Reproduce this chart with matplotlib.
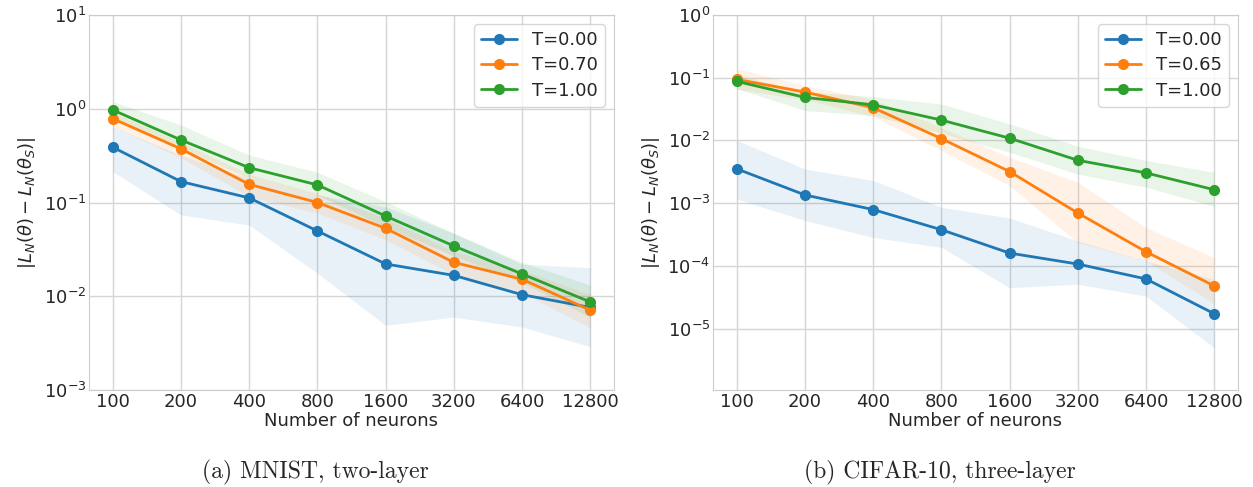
import numpy as np
import matplotlib
matplotlib.use("Agg")
import matplotlib.pyplot as plt
import seaborn as sns

sns.set_style("whitegrid")
plt.rcParams['font.family'] = ['DejaVu Sans']

neurons = [100, 200, 400, 800, 1600, 3200, 6400, 12800]
tick_labels = [str(n) for n in neurons]

# MNIST, two-layer
mnist_labels = ["T=0.00", "T=0.70", "T=1.00"]
mnist_mean = [
    [0.388, 0.167, 0.112, 0.0497, 0.0221, 0.0167, 0.0104, 0.0076],
    [0.783, 0.373, 0.156, 0.100, 0.053, 0.023, 0.0152, 0.0071],
    [0.97, 0.464, 0.235, 0.154, 0.0718, 0.0344, 0.0173, 0.0087],
]
mnist_low = [
    [0.213, 0.0736, 0.0575, 0.0176, 0.0049, 0.006, 0.0047, 0.0029],
    [0.64, 0.30, 0.115, 0.077, 0.040, 0.017, 0.011, 0.0046],
    [0.80, 0.38, 0.18, 0.12, 0.055, 0.027, 0.014, 0.0060],
]
mnist_high = [
    [0.64, 0.32, 0.18, 0.12, 0.09, 0.047, 0.022, 0.0202],
    [0.92, 0.44, 0.20, 0.125, 0.068, 0.030, 0.019, 0.0105],
    [1.19, 0.67, 0.32, 0.21, 0.102, 0.047, 0.023, 0.0132],
]

# CIFAR-10, three-layer
cifar_labels = ["T=0.00", "T=0.65", "T=1.00"]
cifar_mean = [
    [0.00352, 0.00135, 0.00079, 0.000377, 0.00016, 0.000107, 6.2e-5, 1.73e-5],
    [0.094, 0.059, 0.0332, 0.0107, 0.00319, 0.000697, 0.000168, 4.8e-5],
    [0.0874, 0.0485, 0.037, 0.0211, 0.01086, 0.00483, 0.00304, 0.00164],
]
cifar_low = [
    [0.00116, 0.00053, 0.000284, 0.000197, 4.5e-5, 5.1e-5, 3.3e-5, 4.95e-6],
    [0.065, 0.045, 0.024, 0.0069, 0.0019, 0.000236, 0.00012, 2.5e-5],
    [0.067, 0.030, 0.025, 0.013, 0.0065, 0.0029, 0.0018, 0.00089],
]
cifar_high = [
    [0.01, 0.0035, 0.0023, 0.00086, 0.00058, 0.00025, 0.00012, 6.1e-5],
    [0.139, 0.075, 0.045, 0.016, 0.0054, 0.00215, 0.00041, 0.000136],
    [0.11, 0.06, 0.05, 0.038, 0.0184, 0.0081, 0.0048, 0.0031],
]

colors = ["#1f77b4", "#ff7f0e", "#2ca02c"]

fig = plt.figure(figsize=(12.53, 4.87), dpi=100)
W, H = 1253, 487
ax1 = fig.add_axes([89 / W, 97 / H, 525 / W, 375 / H])
ax2 = fig.add_axes([713 / W, 97 / H, 525 / W, 375 / H])

x = np.arange(len(neurons))


def draw(ax, means, lows, highs, labels, ylim, yticks):
    for m, lo, hi, lab, c in zip(means, lows, highs, labels, colors):
        ax.fill_between(x, lo, hi, color=c, alpha=0.1, linewidth=0)
        ax.plot(x, m, '-o', color=c, label=lab, linewidth=2, markersize=7)
    ax.set_yscale('log')
    ax.set_ylim(*ylim)
    ax.set_yticks(yticks)
    ax.yaxis.set_minor_locator(matplotlib.ticker.NullLocator())
    ax.set_xticks(x)
    ax.set_xticklabels(tick_labels)
    ax.margins(x=0.05)
    ax.tick_params(axis='both', labelsize=13, pad=2, length=0)
    ax.set_xlabel("Number of neurons", fontsize=13, labelpad=1)
    ax.set_ylabel(r"$|L_N(\theta) - L_N(\theta_S)|$", fontsize=13, labelpad=4)
    for s in ax.spines.values():
        s.set_color('#cccccc')
    ax.grid(True, color='#d5d5d5', linewidth=1)
    ax.legend(loc='upper right', fontsize=13, framealpha=0.8, borderpad=0.4,
              handlelength=2.0, labelspacing=0.4)


draw(ax1, mnist_mean, mnist_low, mnist_high, mnist_labels, (1e-3, 10),
     [1e-3, 1e-2, 1e-1, 1, 10])
draw(ax2, cifar_mean, cifar_low, cifar_high, cifar_labels, (1.05e-6, 1),
     [1e-5, 1e-4, 1e-3, 1e-2, 1e-1, 1])

fig.text(315 / W, 1 - 472 / H, "(a) MNIST, two-layer", fontsize=17,
         family='cmr10', ha='center', va='center')
fig.text(940 / W, 1 - 472 / H, "(b) CIFAR-10, three-layer", fontsize=17,
         family='cmr10', ha='center', va='center')

fig.savefig("out.png", dpi=100)
